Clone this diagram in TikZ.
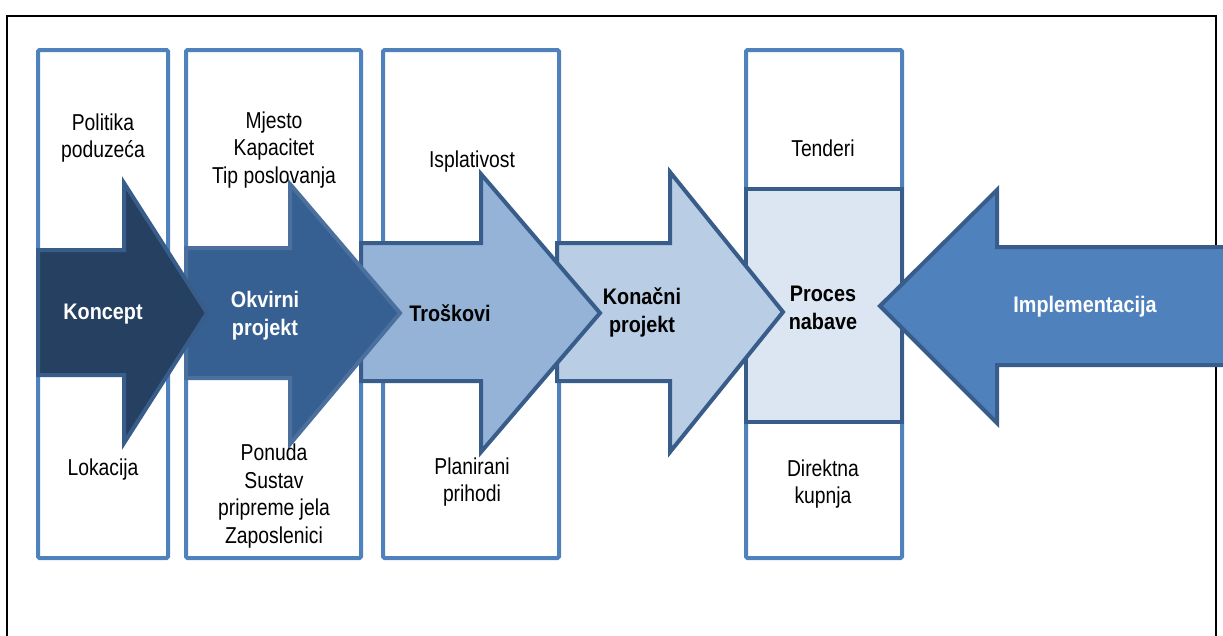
\documentclass[tikz,border=0pt]{standalone}
\usepackage{fontspec}
\setmainfont{Liberation Sans}
\newfontfamily\regfont{Liberation Sans}[FakeStretch=0.84]
\newfontfamily\lblfont{Liberation Sans}[FakeStretch=0.88]
\definecolor{boxblue}{HTML}{4F81BD}
\definecolor{edgeblue}{HTML}{385D8A}
\definecolor{cA}{HTML}{254061}
\definecolor{cB}{HTML}{376092}
\definecolor{cC}{HTML}{95B3D7}
\definecolor{cD}{HTML}{B9CDE5}
\definecolor{cE}{HTML}{DCE6F2}
\begin{document}
\begin{tikzpicture}[x=1pt,y=-1pt,
  colbox/.style={draw=boxblue,line width=4pt,rounded corners=1.5pt,fill=white},
  arr/.style={draw=edgeblue,line width=4pt,line join=miter},
  txt/.style={font=\regfont\fontsize{23}{27.5}\selectfont,align=center,text=black},
  lbl/.style={font=\lblfont\bfseries\fontsize{22.5}{28}\selectfont,align=center}]
\useasboundingbox (0,0) rectangle (1223,635);
\clip (0,0) rectangle (1223,635);
% outer frame
\draw[line width=2.5pt,black] (7,16) rectangle (1216,660);
% column boxes
\draw[colbox] (38,50) rectangle (168,558);
\draw[colbox] (186,50) rectangle (361,558);
\draw[colbox] (383,50) rectangle (559,558);
\draw[colbox] (746,50) rectangle (902,558);
\draw[draw=edgeblue,line width=4pt,fill=cE] (746,189) rectangle (902,422);
% arrows (back to front)
\draw[arr,fill=boxblue] (1240,247) -- (997,247) -- (997,190) -- (880,306) -- (997,423) -- (997,365) -- (1240,365) -- cycle;
\draw[arr,fill=cD] (557,243) -- (670,243) -- (670,172) -- (783,312) -- (670,452) -- (670,381) -- (557,381) -- cycle;
\draw[arr,fill=cC] (361,243) -- (481,243) -- (481,174) -- (600,313) -- (481,452) -- (481,381) -- (361,381) -- cycle;
\draw[arr,fill=cB,draw=cB!90!white] (186,248) -- (290,248) -- (290,184) -- (400,313) -- (290,444) -- (290,378) -- (186,378) -- cycle;
\draw[arr,fill=cA,draw=edgeblue] (38,250) -- (124,250) -- (124,183) -- (207,313) -- (124,443) -- (124,375) -- (38,375) -- cycle;
% texts
\node[txt] (t1) at (103,138) {Politika\\poduzeća};
\node[txt] (t2) at (274,150) {Mjesto\\Kapacitet\\Tip poslovanja};
\node[txt] (t3) at (472,162) {Isplativost};
\node[txt] (t4) at (823,148) {Tenderi};
\node[txt] (b1) at (103,470) {Lokacija};
\node[txt] (b2) at (274,496) {Ponuda\\Sustav\\pripreme jela\\Zaposlenici};
\node[txt] (b3) at (472,482) {Planirani\\prihodi};
\node[txt] (b4) at (823,484) {Direktna\\kupnja};
\node[lbl,text=white] (a1) at (103,314) {Koncept};
\node[lbl,text=white] (a2) at (265,316) {Okvirni\\projekt};
\node[lbl,text=black] (a3) at (450,313) {Troškovi};
\node[lbl,text=black] (a4) at (642,312) {Konačni\\projekt};
\node[lbl,text=black] (a5) at (823,308) {Proces\\nabave};
\node[lbl,text=white] (a6) at (1085,307) {Implementacija};
\end{tikzpicture}
\end{document}
